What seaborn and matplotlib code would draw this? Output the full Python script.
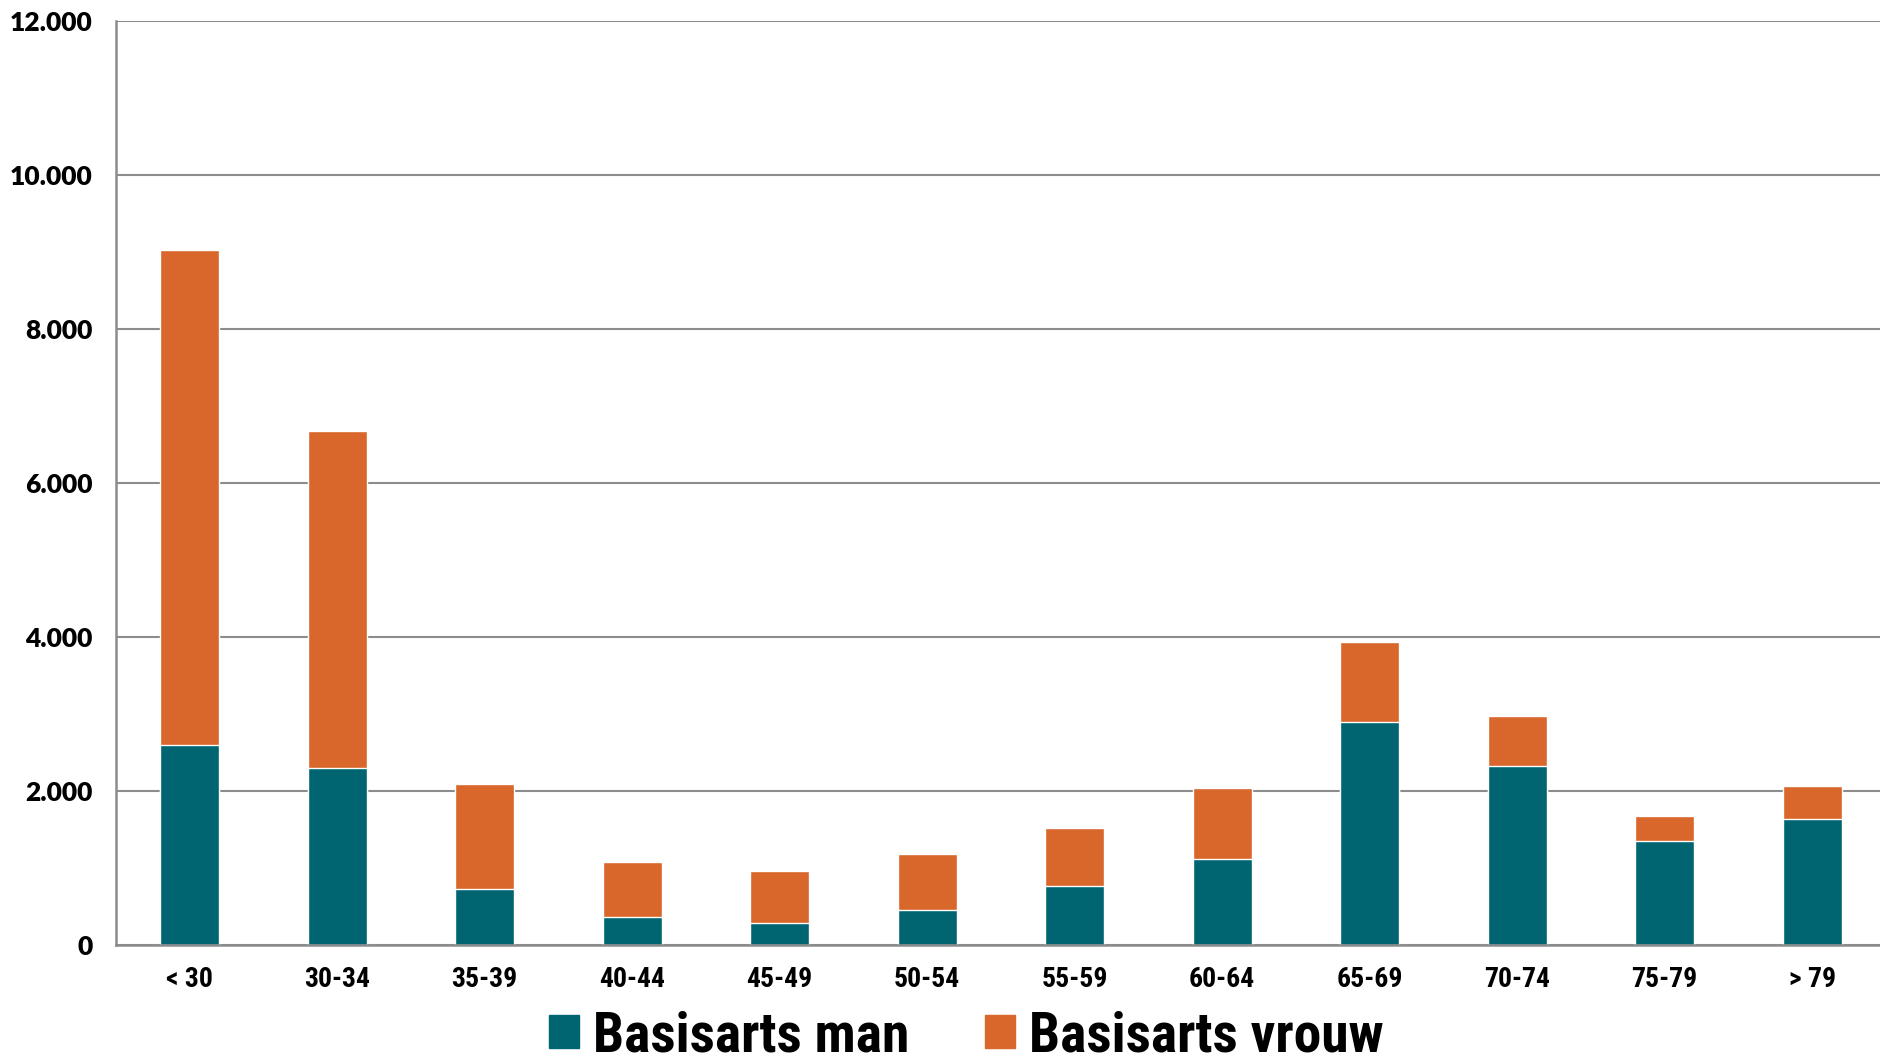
import pandas as pd
import matplotlib.pyplot as plt
import seaborn as sns
from matplotlib.patches import Patch
from matplotlib.ticker import FuncFormatter
from matplotlib import font_manager

# age groups and counts
age_groups = ['< 30', '30-34', '35-39', '40-44', '45-49', '50-54',
              '55-59', '60-64', '65-69', '70-74', '75-79', '> 79']
basisarts_man = [2600, 2300, 720, 360, 290, 455, 765, 1110, 2900, 2325, 1345, 1640]
basisarts_vrouw = [6430, 4370, 1370, 715, 670, 720, 755, 925, 1040, 645, 330, 430]

teal = '#006570'
orange = '#d9662a'

df = pd.DataFrame({'leeftijd': age_groups,
                   'man': basisarts_man,
                   'vrouw': basisarts_vrouw})
df['totaal'] = df['man'] + df['vrouw']

# pick a narrow family if one is installed
installed = {f.name for f in font_manager.fontManager.ttflist}
narrow = [n for n in ['Liberation Sans Narrow', 'Roboto Condensed', 'Open Sans Condensed',
                      'Noto Sans Condensed', 'DejaVu Sans Condensed'] if n in installed]
narrow_family = (narrow[:1] or ['Lato']) + ['DejaVu Sans']

sns.set_style('white')
plt.rcParams['font.family'] = ['Lato', 'DejaVu Sans']
plt.rcParams['text.color'] = 'black'
plt.rcParams['xtick.color'] = 'black'
plt.rcParams['ytick.color'] = 'black'

fig, ax = plt.subplots(figsize=(18.8, 10.64), dpi=100)
fig.subplots_adjust(left=0.0617, right=1.0, top=0.980, bottom=0.112)

# stacked: total in orange, men on top of it in teal
sns.barplot(data=df, x='leeftijd', y='totaal', order=age_groups,
            color=orange, saturation=1, width=0.4, ax=ax)
sns.barplot(data=df, x='leeftijd', y='man', order=age_groups,
            color=teal, saturation=1, width=0.4, ax=ax)

ax.set_ylim(0, 12000)
ax.set_xlim(-0.5, 11.46)
ax.set_yticks(range(0, 12001, 2000))
ax.yaxis.set_major_formatter(FuncFormatter(lambda v, p: f'{int(v):,}'.replace(',', '.')))
ax.grid(axis='y', color='#8c8c8c', linewidth=1.5)
ax.set_axisbelow(True)
ax.set_xlabel('')
ax.set_ylabel('')

for s in ['top', 'right']:
    ax.spines[s].set_visible(False)
for s in ['left', 'bottom']:
    ax.spines[s].set_color('#8c8c8c')
    ax.spines[s].set_linewidth(1.8)

ax.tick_params(axis='both', length=0)
ax.tick_params(axis='y', pad=17)
ax.tick_params(axis='x', pad=15)
for lab in ax.get_yticklabels():
    lab.set_fontsize(19)
    lab.set_fontweight('heavy')
for lab in ax.get_xticklabels():
    lab.set_family(narrow_family)
    lab.set_fontsize(20)
    lab.set_fontweight('bold')

handles = [Patch(color=teal, label='Basisarts man'),
           Patch(color=orange, label='Basisarts vrouw')]
fig.legend(handles=handles, loc='center', bbox_to_anchor=(0.514, 0.026),
           ncol=2, frameon=False, handlelength=0.55, handleheight=0.55,
           handletextpad=0.25, columnspacing=1.35,
           prop={'family': narrow_family, 'weight': 'bold', 'size': 40})

plt.savefig('out.png', dpi=100)
